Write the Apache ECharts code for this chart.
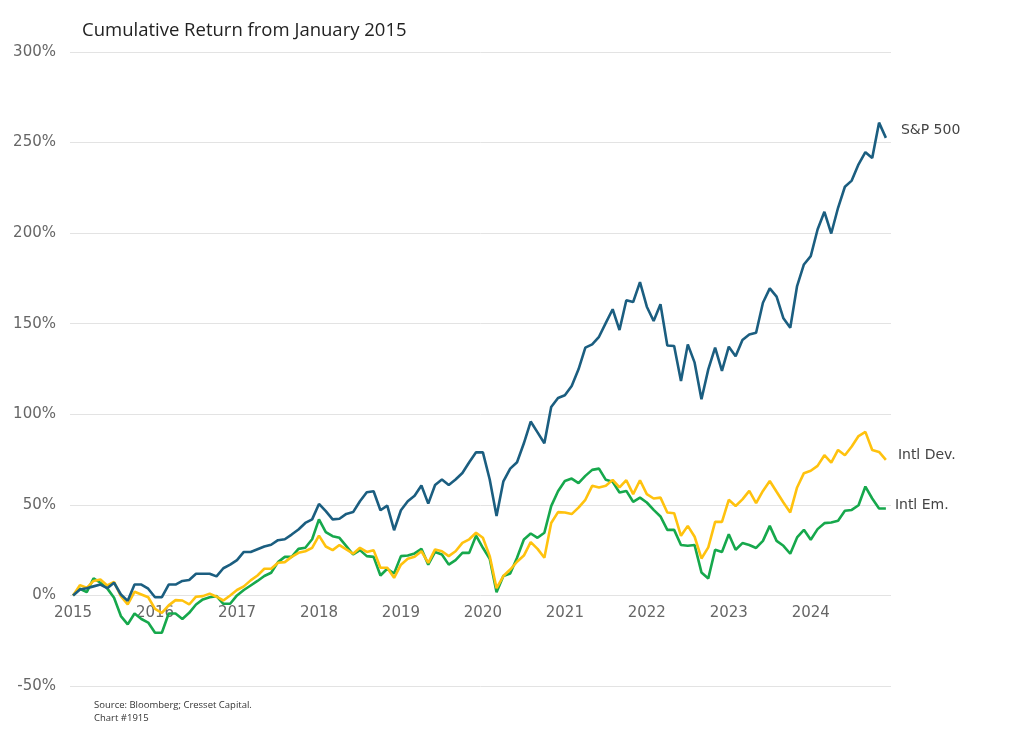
<!DOCTYPE html>
<html>
<head>
<meta charset="utf-8">
<title>Cumulative Return from January 2015</title>
<script src="https://cdn.jsdelivr.net/npm/echarts@6/dist/echarts.min.js"></script>
<style>
  html, body { margin: 0; padding: 0; background: #fff; }
  #chart { width: 1024px; height: 743px; }
</style>
</head>
<body>
<div id="chart"></div>
<script>
// monthly, Jan 2015 .. Dec 2024 (cumulative return, %)
const years = ['2015', '2016', '2017', '2018', '2019', '2020', '2021', '2022', '2023', '2024'];

const sp500 = [
  0, 3.3, 4, 5, 6, 4, 7, 0.5, -3, 6, 6, 3.7,
  -1, -1, 6, 6, 8, 8.5, 12, 12, 12, 10.5, 15, 17,
  19.5, 24, 24, 25.5, 27, 28, 30.5, 31, 33.6, 36.4, 40, 42,
  50.5, 46.5, 42, 42.3, 45, 46, 52, 57, 57.5, 47, 49.6, 36,
  47, 52, 55, 60.7, 50.7, 61, 64, 61, 64, 67.6, 73.5, 79,
  79, 64, 43.8, 63, 70, 73.5, 84, 96, 90, 84, 104, 109,
  110.5, 115.6, 124.8, 136.8, 138.6, 142.8, 150.5, 158, 146.5, 163, 162, 173,
  159.4, 151.5, 160.7, 138, 137.7, 118.4, 138.6, 128.5, 108.3, 124.8, 136.8, 124,
  137.3, 132, 141, 144, 145, 161.6, 169.5, 165, 153, 147.8, 170.8, 182.7,
  187.3, 202, 211.8, 199.8, 214, 225.6, 229, 238, 244.7, 241.5, 261, 252.6
];

const intlDev = [
  0, 5.7, 4.2, 8, 8.8, 5.5, 7.4, -0.4, -5, 2, 0.5, -1,
  -7.4, -9.6, -5.5, -2.6, -2.8, -5, -0.7, -0.4, 1, -0.7, -2.8, 0,
  3, 5, 8.3, 11, 14.7, 14.7, 18, 18.4, 21.3, 23.5, 24.4, 26.3,
  33, 27, 25, 27.8, 25.4, 23, 26.3, 24, 25, 15.3, 15.3, 9.7,
  17, 20.2, 21.3, 24.4, 18, 25.4, 24.4, 21.7, 24.4, 29, 31, 34.6,
  31.8, 21.7, 4, 10.7, 14.3, 18.6, 22, 29.4, 25.7, 20.8, 40, 46,
  45.8, 44.9, 48.5, 52.8, 60.5, 59.6, 60.5, 63.8, 59.6, 63.6, 55.9, 63.6,
  55.9, 53.5, 54, 45.8, 45.4, 32.9, 38.4, 32.4, 20.4, 26.5, 40.6, 40.6,
  52.8, 49.4, 53, 57.7, 51, 57.7, 63.2, 57.2, 51.3, 45.8, 59.6, 67.5,
  68.8, 71.5, 77.4, 73.3, 80.3, 77.4, 82.2, 88, 90.3, 80.3, 79.2, 74.8
];

const intlEm = [
  0, 3.7, 1.8, 9.4, 7, 3.9, -1.3, -11.4, -16, -10, -13, -15,
  -20.6, -20.6, -10, -10, -13, -9.6, -5, -2.2, -1, -0.4, -4.6, -4.6,
  0, 3, 5.5, 8, 10.7, 12.5, 18.4, 21.3, 21.3, 25.7, 26.3, 31,
  42, 35, 32.7, 31.8, 27.2, 22.6, 25, 21.7, 21.3, 11, 14.7, 12.1,
  21.7, 22, 23.2, 25.7, 17, 24, 22.6, 17, 19.5, 23.5, 23.5, 33,
  26.3, 20.2, 1.8, 10.7, 12.1, 20.8, 30.9, 34.2, 31.8, 34.6, 49.3, 57.5,
  63.2, 64.5, 62, 66, 69.3, 70, 63.8, 62.7, 56.8, 57.7, 51.7, 54,
  51.3, 47.2, 43.6, 36.2, 36.2, 27.8, 27.4, 27.8, 12.7, 9.4, 25.2, 24,
  33.8, 25.2, 28.9, 27.8, 26.2, 30.1, 38.4, 30.1, 27.4, 23, 32, 36.2,
  30.7, 36.6, 39.9, 40.3, 41.2, 46.7, 47.2, 49.8, 60.1, 53.5, 48, 48
];

const seriesNames = ['S&P 500', 'Intl Dev.', 'Intl Em.'];
const seriesColors = ['#1b5e80', '#ffc20e', '#16a84c'];
const seriesData = [sp500, intlDev, intlEm];
const endOffsets = [[3, -8], [0, -5], [-3, -3]];

const chart = echarts.init(document.getElementById('chart'));

const option = {
  animation: false,
  textStyle: { fontFamily: 'DejaVu Sans' },
  title: {
    text: 'Cumulative Return from January 2015',
    left: 77,
    top: 16,
    textStyle: { fontSize: 18.5, fontWeight: 'normal', color: '#222', fontFamily: 'Open Sans' }
  },
  grid: { left: 70, right: 133, top: 52, bottom: 57, containLabel: false },
  xAxis: {
    type: 'value',
    min: -0.45,
    max: 119.75,
    // labels sit on the 0% line, not at the bottom of the plot
    offset: -90.6,
    splitLine: { show: false },
    axisLine: { show: false, onZero: false },
    axisTick: { show: false },
    axisLabel: {
      customValues: years.map((y, k) => k * 12),
      formatter: v => years[Math.round(v / 12)],
      color: '#666',
      fontSize: 15,
      margin: 10
    }
  },
  yAxis: {
    type: 'value',
    min: -50,
    max: 300,
    interval: 50,
    axisLine: { show: false, onZero: false },
    axisTick: { show: false },
    splitLine: { lineStyle: { color: '#e3e3e3', width: 1 } },
    axisLabel: {
      formatter: '{value}%',
      color: '#666',
      fontSize: 15,
      margin: 14
    }
  },
  series: seriesData.map((d, s) => ({
    name: seriesNames[s],
    type: 'line',
    data: d.map((v, i) => [i, v]),
    showSymbol: false,
    symbol: 'none',
    lineStyle: { color: seriesColors[s], width: 2.6 },
    itemStyle: { color: seriesColors[s] },
    endLabel: {
      show: true,
      formatter: seriesNames[s],
      color: '#444',
      fontSize: 14,
      distance: 12,
      offset: endOffsets[s]
    },
    z: 3 - s
  })),
  graphic: [
    {
      type: 'text',
      left: 94,
      top: 699,
      style: {
        text: 'Source: Bloomberg; Cresset Capital.\nChart #1915',
        fill: '#333',
        font: '9.5px "Open Sans"',
        lineHeight: 13
      }
    }
  ]
};

chart.setOption(option);
</script>
</body>
</html>
